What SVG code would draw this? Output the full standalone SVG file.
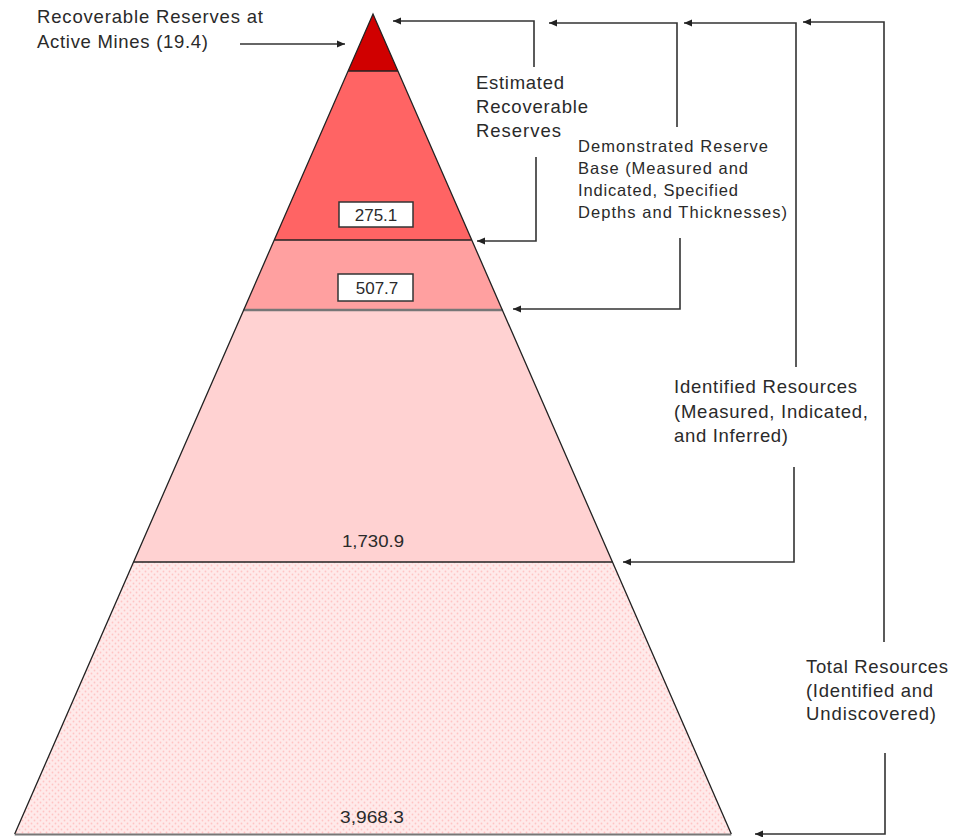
<svg xmlns="http://www.w3.org/2000/svg" width="954" height="837" viewBox="0 0 954 837">
<defs>
<style>
text{font-family:"Liberation Sans",Arial,sans-serif;fill:#2a2a2a;}
.lbl{font-size:18.5px;}
.sm{font-size:16.5px;}
.num{font-size:17px;text-anchor:middle;}
.conn{fill:none;stroke:#333;stroke-width:1.6;}
.sep{stroke:#222;stroke-width:1.5;}
.box{fill:#fff;stroke:#333;stroke-width:1.5;}
</style>
<marker id="ah" viewBox="0 0 8 8" refX="8" refY="4" markerWidth="8" markerHeight="8" markerUnits="userSpaceOnUse" orient="auto">
<path d="M0,0.5 L8,4 L0,7.5 z" fill="#222"/>
</marker>
<pattern id="dots" width="6" height="6" patternUnits="userSpaceOnUse">
<rect width="6" height="6" fill="#ffeaea"/>
<circle cx="1.5" cy="1.5" r="0.9" fill="#ffc4c4"/>
<circle cx="4.5" cy="4.5" r="0.9" fill="#ffc4c4"/>
</pattern>
</defs>
<rect width="954" height="837" fill="#fff"/>

<g id="band-total">
<polygon points="133.5,562 612.5,562 731.3,834 14.7,834" fill="url(#dots)"/>
<text class="num" x="372" y="823" textLength="64" lengthAdjust="spacingAndGlyphs">3,968.3</text>
</g>
<g id="band-identified">
<polygon points="243.6,310 502.4,310 612.5,562 133.5,562" fill="#ffd2d2"/>
<text class="num" x="373" y="547" textLength="62" lengthAdjust="spacingAndGlyphs">1,730.9</text>
</g>
<g id="band-demonstrated">
<polygon points="274.2,240 471.8,240 502.4,310 243.6,310" fill="#ffa0a0"/>
<rect class="box" x="338" y="274" width="75" height="27"/>
<text class="num" x="377" y="294">507.7</text>
</g>
<g id="band-estimated">
<polygon points="348.1,71 397.9,71 471.8,240 274.2,240" fill="#ff6464"/>
<rect class="box" x="339" y="202" width="74" height="25"/>
<text class="num" x="376" y="221">275.1</text>
</g>
<g id="band-active">
<polygon points="373,14 397.9,71 348.1,71" fill="#d00000"/>
</g>
<g id="outline">
<line class="sep" x1="348.1" y1="71" x2="397.9" y2="71" stroke-width="1"/>
<line class="sep" x1="274.2" y1="240" x2="471.8" y2="240"/>
<line x1="243.6" y1="310" x2="502.4" y2="310" stroke="#777" stroke-width="2.5"/>
<line class="sep" x1="133.5" y1="562" x2="612.5" y2="562" stroke-width="2"/>
<line x1="14.7" y1="834.5" x2="731.3" y2="834.5" stroke="#777" stroke-width="2"/>
<path d="M14.7,834 L373,14 L731.3,834" fill="none" stroke="#222" stroke-width="1.3"/>
</g>

<g id="label-active">
<text class="lbl" x="37" y="23" textLength="226" lengthAdjust="spacing">Recoverable Reserves at</text>
<text class="lbl" x="37" y="48" textLength="171" lengthAdjust="spacing">Active Mines (19.4)</text>
</g>
<g id="label-estimated">
<text class="lbl" x="476" y="89" textLength="88" lengthAdjust="spacing">Estimated</text>
<text class="lbl" x="476" y="113" textLength="112" lengthAdjust="spacing">Recoverable</text>
<text class="lbl" x="476" y="137" textLength="85" lengthAdjust="spacing">Reserves</text>
</g>
<g id="label-demonstrated">
<text class="sm" x="578" y="152" textLength="190" lengthAdjust="spacing">Demonstrated Reserve</text>
<text class="sm" x="578" y="174" textLength="170" lengthAdjust="spacing">Base (Measured and</text>
<text class="sm" x="578" y="196" textLength="160" lengthAdjust="spacing">Indicated, Specified</text>
<text class="sm" x="578" y="218" textLength="209" lengthAdjust="spacing">Depths and Thicknesses)</text>
</g>
<g id="label-identified">
<text class="lbl" x="674" y="393" textLength="183" lengthAdjust="spacing">Identified Resources</text>
<text class="lbl" x="674" y="418" textLength="194" lengthAdjust="spacing">(Measured, Indicated,</text>
<text class="lbl" x="674" y="442" textLength="114" lengthAdjust="spacing">and Inferred)</text>
</g>
<g id="label-total">
<text class="lbl" x="806" y="673" textLength="142" lengthAdjust="spacing">Total Resources</text>
<text class="lbl" x="806" y="697" textLength="127" lengthAdjust="spacing">(Identified and</text>
<text class="lbl" x="806" y="720" textLength="130" lengthAdjust="spacing">Undiscovered)</text>
</g>

<g id="connectors">
<path class="conn" d="M240,44 L345,44" marker-end="url(#ah)"/>
<path class="conn" d="M534,67 L534,21 L393,21" marker-end="url(#ah)"/>
<path class="conn" d="M536,157 L536,241 L477,241" marker-end="url(#ah)"/>
<path class="conn" d="M677,127 L677,23 L549,23" marker-end="url(#ah)"/>
<path class="conn" d="M680,238 L680,309 L513,309" marker-end="url(#ah)"/>
<path class="conn" d="M796,367 L796,23 L684,23" marker-end="url(#ah)"/>
<path class="conn" d="M794,467 L794,562 L623,562" marker-end="url(#ah)"/>
<path class="conn" d="M884,642 L884,22 L803,22" marker-end="url(#ah)"/>
<path class="conn" d="M885,753 L885,834 L755,834" marker-end="url(#ah)"/>
</g>
</svg>
